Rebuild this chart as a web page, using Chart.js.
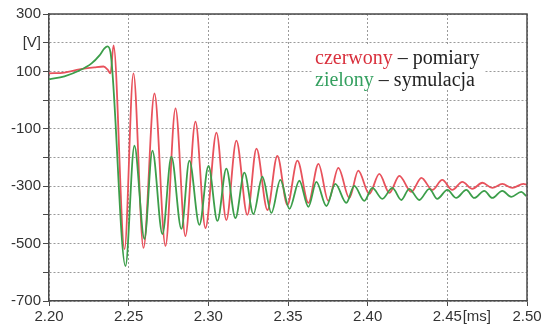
<!DOCTYPE html>
<html>
<head>
<meta charset="utf-8">
<script src="https://cdn.jsdelivr.net/npm/chart.js@4/dist/chart.umd.min.js"></script>
<style>
  body { margin: 0; background: #fff; }
</style>
</head>
<body>
<canvas id="wykres" width="545" height="327"></canvas>
<script>
// czerwony - pomiary (time in ms, voltage in V)
const czasPomiar = [2.2000, 2.2097, 2.2191, 2.2285, 2.2342, 2.2367, 2.2386, 2.2405, 2.2474, 2.2530,
    2.2593, 2.2662, 2.2731, 2.2794, 2.2856, 2.2919, 2.2982, 2.3051, 2.3113, 2.3176,
    2.3245, 2.3302, 2.3371, 2.3433, 2.3496, 2.3559, 2.3628, 2.3691, 2.3753, 2.3816,
    2.3885, 2.3941, 2.4010, 2.4073, 2.4136, 2.4199, 2.4274, 2.4337, 2.4406, 2.4468,
    2.4531, 2.4594, 2.4657, 2.4720, 2.4782, 2.4845, 2.4908, 2.4977, 2.5000];
const napieciePomiar = [93, 96, 107, 114, 117, 107, 93, 191, -519, 93,
    -515, 23, -508, -29, -474, -75, -446, -113, -418, -141,
    -400, -169, -383, -194, -365, -211, -358, -222, -351, -236,
    -341, -246, -327, -257, -323, -264, -320, -271, -313, -278,
    -313, -285, -309, -288, -306, -292, -306, -292, -295];

// zielony - symulacja
const czasSymulacja = [2.2000, 2.2097, 2.2191, 2.2267, 2.2317, 2.2348, 2.2367, 2.2386, 2.2480, 2.2536,
    2.2599, 2.2649, 2.2712, 2.2768, 2.2831, 2.2881, 2.2944, 2.3001, 2.3057, 2.3113,
    2.3170, 2.3226, 2.3283, 2.3339, 2.3396, 2.3452, 2.3509, 2.3571, 2.3628, 2.3678,
    2.3741, 2.3797, 2.3866, 2.3916, 2.3979, 2.4029, 2.4092, 2.4155, 2.4211, 2.4261,
    2.4324, 2.4387, 2.4437, 2.4500, 2.4556, 2.4619, 2.4669, 2.4732, 2.4782, 2.4845,
    2.4901, 2.4964, 2.4995];
const napiecieSymulacja = [72, 83, 103, 128, 156, 180, 187, 166, -578, -159,
    -484, -176, -467, -197, -449, -211, -435, -229, -421, -239,
    -411, -253, -397, -267, -393, -278, -379, -281, -372, -285,
    -369, -292, -358, -299, -351, -306, -344, -306, -348, -309,
    -348, -309, -344, -313, -341, -313, -341, -316, -341, -316,
    -337, -320, -334];

// etykiety osi
const xTicks = [2.20, 2.25, 2.30, 2.35, 2.40, 2.45, 2.4685, 2.50];
const xLabels = ['2.20', '2.25', '2.30', '2.35', '2.40', '2.45', '[ms]', '2.50'];
const yTicks = [300, 200, 100, 0, -100, -200, -300, -400, -500, -600, -700];
const yLabels = ['300', '[V]', '100', '', '-100', '', '-300', '', '-500', '', '-700'];

const toPoints = (xs, ys) => xs.map((x, i) => ({ x: x, y: ys[i] }));
const isUnitTick = c => c.tick && c.tick.value === 2.4685;

// ramka wykresu + opis serii
const opisPlugin = {
    id: 'opis',
    beforeDatasetsDraw(chart) {
        const ctx = chart.ctx;
        ctx.save();
        ctx.fillStyle = '#fff';
        ctx.fillRect(312, 46, 172, 44);
        ctx.font = '20px "Liberation Serif", "Times New Roman", serif';
        ctx.textBaseline = 'alphabetic';
        let x = 315;
        ctx.fillStyle = '#d9303d';
        ctx.fillText('czerwony', x, 64);
        x += ctx.measureText('czerwony').width;
        ctx.fillStyle = '#222';
        ctx.fillText(' \u2013 pomiary', x, 64);
        x = 315;
        ctx.fillStyle = '#35a060';
        ctx.fillText('zielony', x, 86);
        x += ctx.measureText('zielony').width;
        ctx.fillStyle = '#222';
        ctx.fillText(' \u2013 symulacja', x, 86);
        ctx.restore();
    },
    afterDraw(chart) {
        const a = chart.chartArea;
        const ctx = chart.ctx;
        ctx.save();
        ctx.strokeStyle = '#4a4a4a';
        ctx.lineWidth = 1.5;
        ctx.beginPath();
        ctx.moveTo(a.left, a.top);
        ctx.lineTo(a.right, a.top);
        ctx.lineTo(a.right, a.bottom);
        ctx.stroke();
        ctx.restore();
    }
};

const ctx = document.getElementById('wykres').getContext('2d');
new Chart(ctx, {
    type: 'line',
    data: {
        datasets: [{
            label: 'symulacja',
            data: toPoints(czasSymulacja, napiecieSymulacja),
            borderColor: '#3c9e4a',
            borderWidth: 1.8,
            pointRadius: 0,
            cubicInterpolationMode: 'monotone',
            fill: false
        }, {
            label: 'pomiary',
            data: toPoints(czasPomiar, napieciePomiar),
            borderColor: '#e8525c',
            borderWidth: 1.8,
            pointRadius: 0,
            cubicInterpolationMode: 'monotone',
            fill: false
        }]
    },
    options: {
        responsive: false,
        animation: false,
        layout: { padding: { left: 0, right: 18, top: 14, bottom: 0 } },
        plugins: {
            legend: { display: false },
            tooltip: { enabled: false }
        },
        scales: {
            x: {
                type: 'linear',
                min: 2.20,
                max: 2.50,
                afterBuildTicks: axis => { axis.ticks = xTicks.map(v => ({ value: v })); },
                afterFit: axis => { axis.height = 26; },
                ticks: {
                    autoSkip: false,
                    maxRotation: 0,
                    padding: 2,
                    color: '#333',
                    font: { family: '"Liberation Sans", Arial, sans-serif', size: 15 },
                    callback: (v, i) => xLabels[i]
                },
                grid: {
                    color: c => isUnitTick(c) ? 'rgba(0,0,0,0)' : '#9a9a9a',
                    tickColor: c => isUnitTick(c) ? 'rgba(0,0,0,0)' : '#4a4a4a',
                    tickLength: 5,
                    tickBorderDash: [],
                    lineWidth: 1
                },
                border: { display: true, color: '#4a4a4a', width: 1.5, dash: [2, 2] }
            },
            y: {
                min: -700,
                max: 300,
                afterBuildTicks: axis => { axis.ticks = yTicks.map(v => ({ value: v })); },
                afterFit: axis => { axis.width = 49; },
                ticks: {
                    padding: 2,
                    color: '#333',
                    font: { family: '"Liberation Sans", Arial, sans-serif', size: 15 },
                    callback: (v, i) => yLabels[i]
                },
                grid: {
                    color: '#9a9a9a',
                    tickColor: '#4a4a4a',
                    tickLength: 6,
                    tickBorderDash: [],
                    lineWidth: 1
                },
                border: { display: true, color: '#4a4a4a', width: 1.5, dash: [2, 2] }
            }
        }
    },
    plugins: [opisPlugin]
});
</script>
</body>
</html>
